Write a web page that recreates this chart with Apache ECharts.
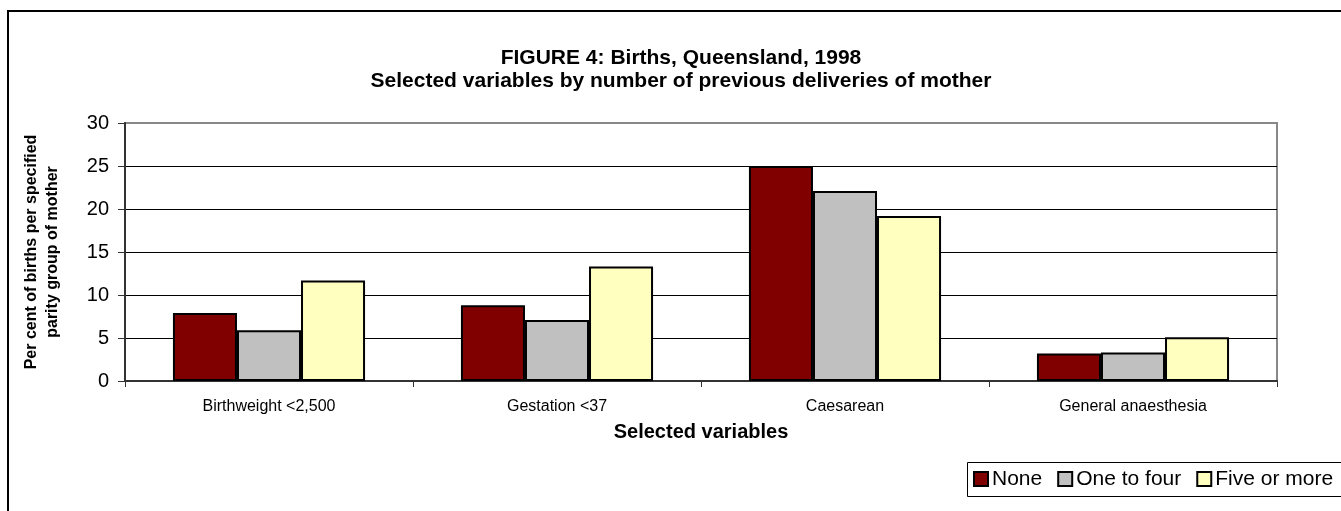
<!DOCTYPE html>
<html>
<head>
<meta charset="utf-8">
<script src="https://cdn.jsdelivr.net/npm/echarts@6/dist/echarts.min.js"></script>
<style>
  html, body { margin: 0; padding: 0; background: #fff; }
  #main { width: 1341px; height: 511px; }
</style>
</head>
<body>
<div id="main"></div>
<script>
var categories = ['Birthweight <2,500', 'Gestation <37', 'Caesarean', 'General anaesthesia'];
var seriesNames = ['None', 'One to four', 'Five or more'];
var noneVals = [7.9, 8.8, 25.0, 3.2];
var oneToFourVals = [5.9, 7.1, 22.1, 3.3];
var fiveOrMoreVals = [11.7, 13.3, 19.2, 5.1];
var yTicks = [0, 5, 10, 15, 20, 25, 30];

var font = "'Liberation Sans', Arial, sans-serif";
var colors = ['#800000', '#c0c0c0', '#ffffc0'];
var values = [noneVals, oneToFourVals, fiveOrMoreVals];

var chart = echarts.init(document.getElementById('main'));

var series = seriesNames.map(function (name, i) {
    return {
        name: name,
        type: 'bar',
        barGap: '0%',
        barCategoryGap: '33.3%',
        itemStyle: { color: colors[i], borderColor: '#000', borderWidth: 2 },
        data: values[i]
    };
});

var option = {
    animation: false,
    textStyle: { fontFamily: font },
    title: {
        text: 'FIGURE 4: Births, Queensland, 1998\nSelected variables by number of previous deliveries of mother',
        left: 681,
        top: 47,
        padding: 0,
        textAlign: 'center',
        textStyle: { fontFamily: font, fontSize: 21, fontWeight: 'bold', color: '#000', lineHeight: 23 }
    },
    legend: {
        data: seriesNames,
        left: 967,
        top: 462,
        orient: 'horizontal',
        icon: 'rect',
        itemWidth: 14,
        itemHeight: 14,
        itemGap: 15,
        padding: [6, 6, 6, 6],
        textStyle: { fontFamily: font, fontSize: 21, color: '#000', lineHeight: 22, padding: [0, 0, 0, -1] },
        itemStyle: { borderColor: '#000', borderWidth: 2 }
    },
    grid: {
        left: 125,
        right: 64,
        top: 123,
        bottom: 130,
        show: true,
        borderColor: '#888',
        borderWidth: 2
    },
    xAxis: {
        type: 'category',
        data: categories,
        name: 'Selected variables',
        nameLocation: 'middle',
        nameGap: 41,
        nameTextStyle: { fontFamily: font, fontSize: 20, fontWeight: 'bold', color: '#000' },
        axisLine: { lineStyle: { color: '#333', width: 2 } },
        axisTick: { show: true, length: 6, alignWithLabel: false, lineStyle: { color: '#333' } },
        axisLabel: { fontFamily: font, fontSize: 16, color: '#000', margin: 18 }
    },
    yAxis: {
        type: 'value',
        min: yTicks[0],
        max: yTicks[yTicks.length - 1],
        interval: 5,
        name: 'Per cent of births per specified\nparity group of mother',
        nameLocation: 'middle',
        nameGap: 62,
        nameTextStyle: { fontFamily: font, fontSize: 16, fontWeight: 'bold', color: '#000', lineHeight: 21 },
        axisLine: { show: true, lineStyle: { color: '#333', width: 2 } },
        axisTick: { show: true, length: 7, lineStyle: { color: '#333' } },
        axisLabel: { fontFamily: font, fontSize: 20, color: '#000', margin: 16 },
        splitLine: {
            show: true,
            lineStyle: { color: ['#000', '#000', '#000', '#000', '#000', '#000', '#888'], width: 1 }
        }
    },
    graphic: [{
        // outer chart frame
        type: 'rect',
        shape: { x: 8, y: 11, width: 1400, height: 600 },
        style: { fill: 'none', stroke: '#000', lineWidth: 2 },
        silent: true
    }, {
        // legend box, runs off the right edge like the original
        type: 'rect',
        shape: { x: 967.5, y: 462.5, width: 400, height: 34 },
        style: { fill: 'none', stroke: '#000', lineWidth: 1 },
        silent: true
    }],
    series: series
};

chart.setOption(option);

window.addEventListener('resize', function () {
    chart.resize();
});
</script>
</body>
</html>
